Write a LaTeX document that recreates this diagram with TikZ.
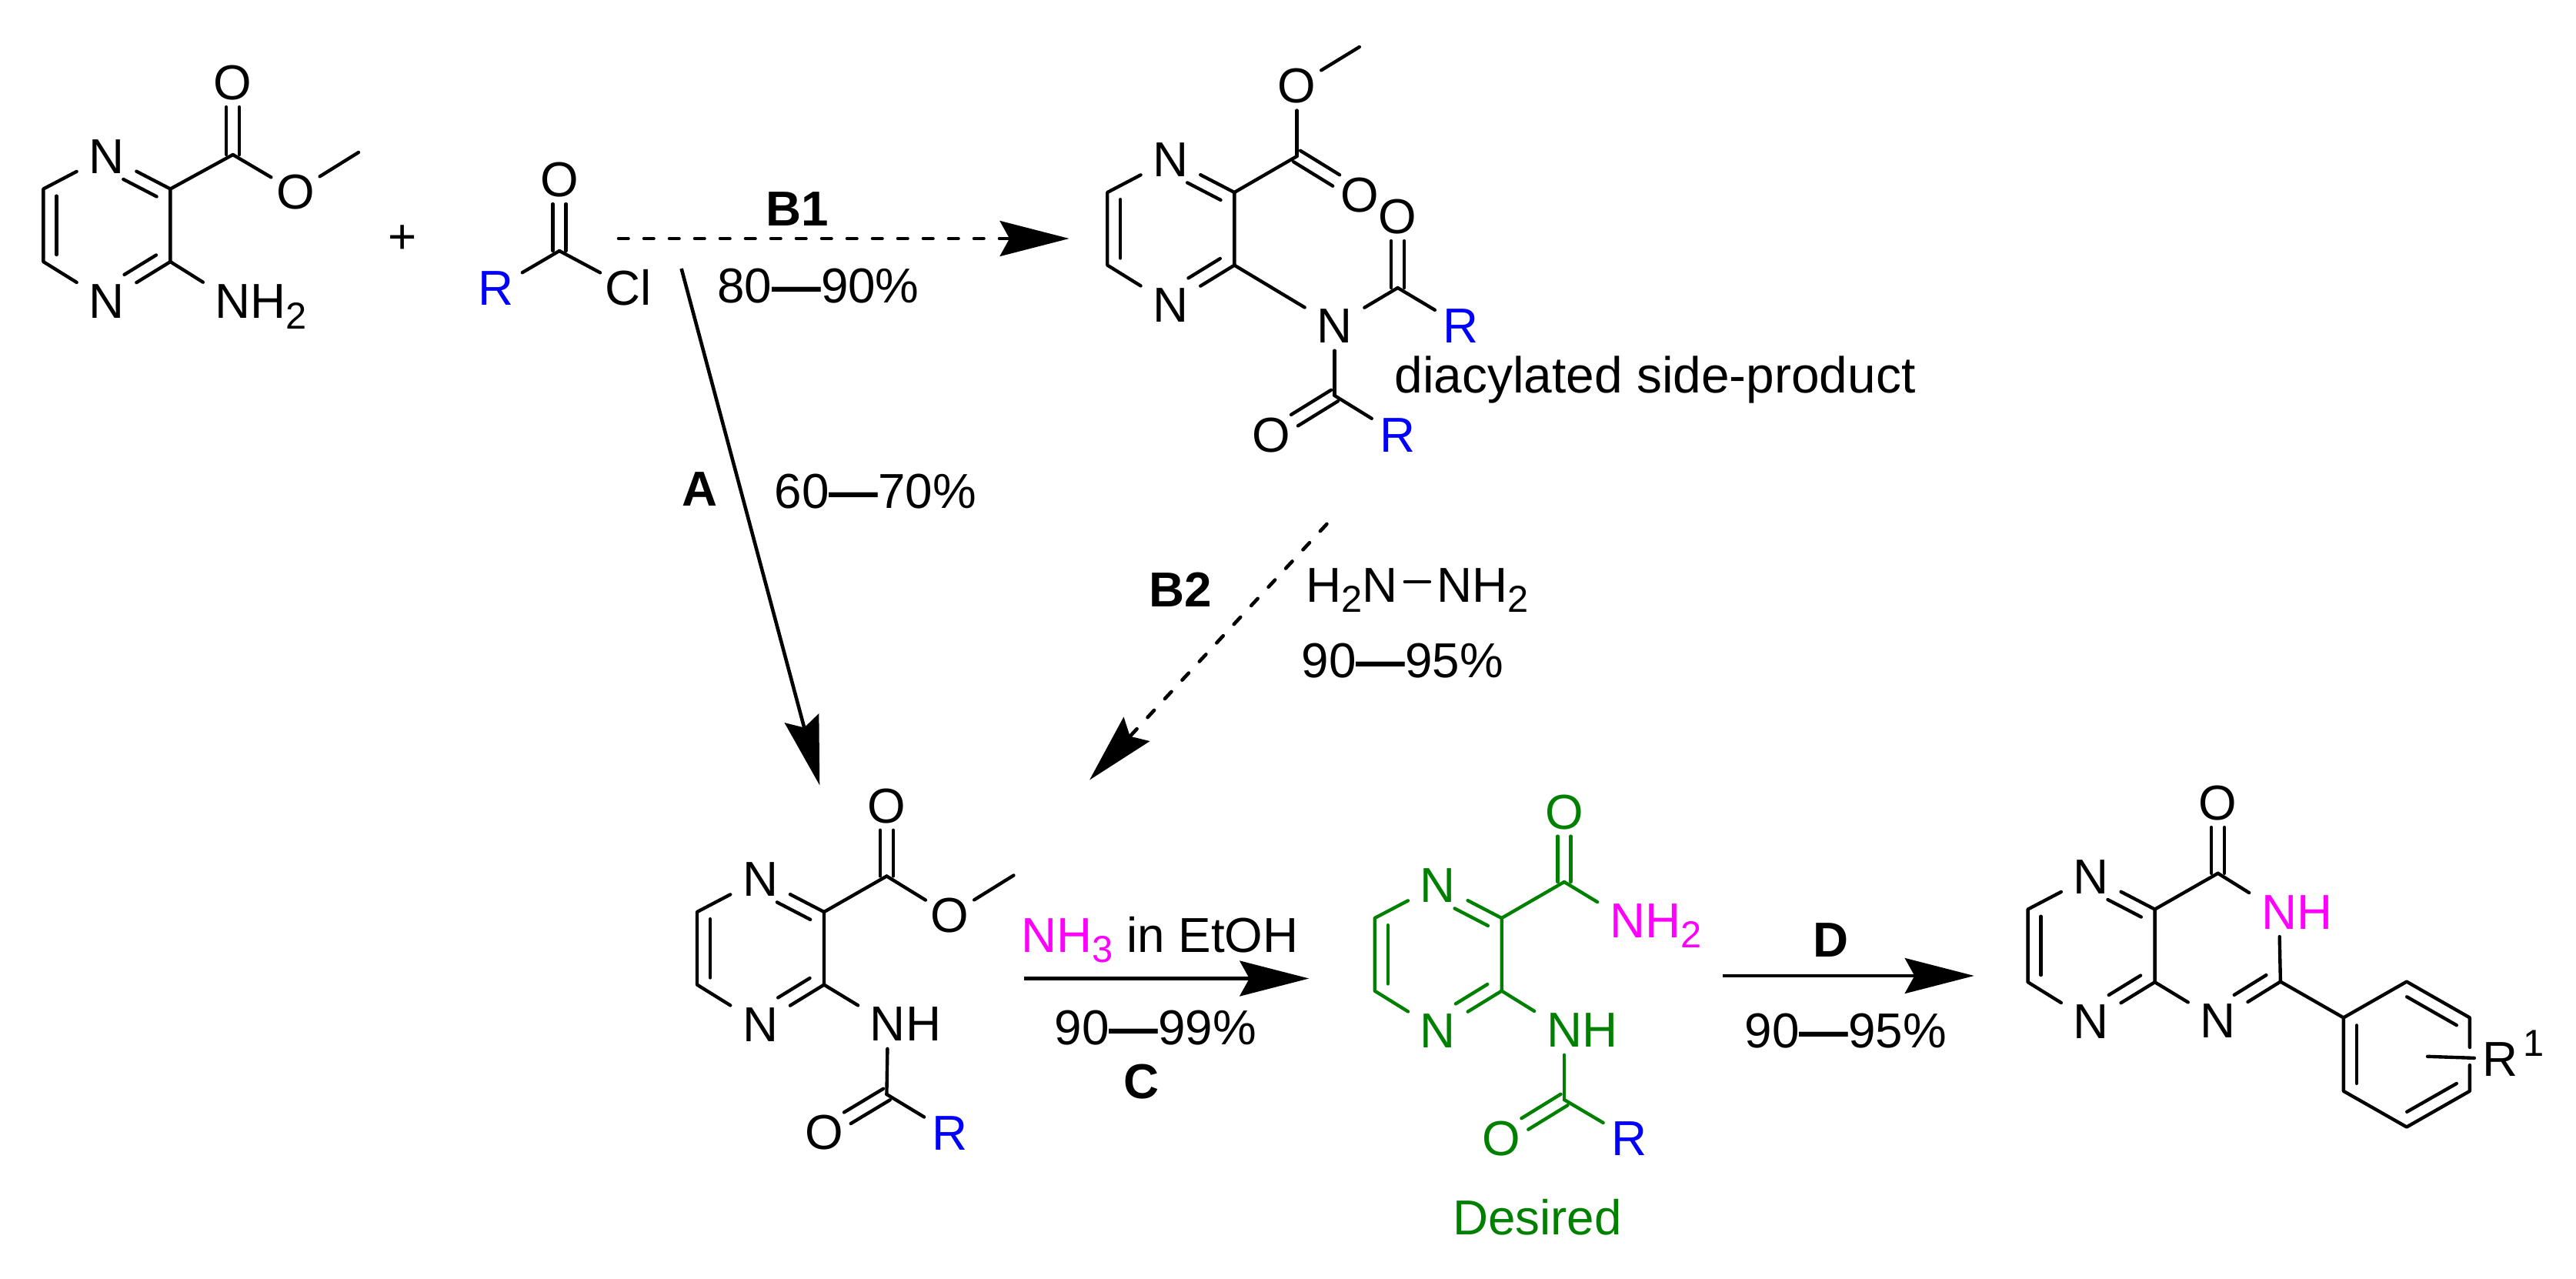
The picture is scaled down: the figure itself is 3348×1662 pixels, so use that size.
\documentclass[tikz,border=0pt]{standalone}
\usepackage{fontspec}
\setmainfont{Liberation Sans}
\usetikzlibrary{arrows.meta,calc}
\definecolor{dgreen}{HTML}{008000}
\definecolor{mag}{HTML}{FF00FF}
\definecolor{rblue}{HTML}{0000FF}
\newcommand{\mainsize}{\fontsize{15.3}{18}\selectfont}
\newcommand{\sbs}[1]{\raisebox{-3.2pt}{\fontsize{11.7}{12}\selectfont #1}}
\newcommand{\rH}[1]{\smash{\rlap{#1}}}
\newcommand{\yld}[2]{#1\textbf{—}#2\%}
\tikzset{
  x=0.24pt,y=-0.24pt,
  bond/.style={line width=1.05pt,line cap=round,line join=round},
  atom/.style={font=\mainsize,inner xsep=3.6pt,inner ysep=2.2pt,text height=10.95pt,text depth=0pt},
  tight/.style={inner xsep=1.44pt},
  rgroup/.style={inner xsep=2.4pt},
  txt/.style={font=\mainsize,inner sep=0pt,anchor=base},
  btxt/.style={font=\mainsize\bfseries,inner sep=0pt,anchor=base},
  arr/.style={line width=1.1pt,-{Stealth[length=21.6pt,width=11pt,inset=3pt]}},
  darr/.style={arr,line cap=round,dash pattern=on 3pt off 4.92pt}
}
% inner (ring side) line of a double bond, a -> b clockwise round the ring
\newcommand{\indb}[4]{\draw[bond,shorten <=#3,shorten >=#4] ($(#1)!4.08pt!-90:(#2)$) -- ($(#2)!4.08pt!90:(#1)$);}
% double bond centred on the a--b axis
\newcommand{\cdb}[3]{%
  \draw[bond,shorten >=#3] ($(#1)!2.04pt!90:(#2)$) -- ($(#2)!2.04pt!-90:(#1)$);
  \draw[bond,shorten >=#3] ($(#1)!2.04pt!-90:(#2)$) -- ($(#2)!2.04pt!90:(#1)$);}
% pyrazine ring: prefix, x and y of the upper fused carbon, colour
\newcommand{\pyrazine}[4]{%
  \begin{scope}[shift={(#2,#3)},color=#4]
    \coordinate (#1c2) at (0,0);
    \coordinate (#1c3) at (0,94.6);
    \coordinate (#1lt) at (-165,0);
    \coordinate (#1lb) at (-165,94.6);
    \node[atom] (#1n1) at (-82.9,-43) {N};
    \node[atom] (#1n2) at (-82.9,145.5) {N};
    \draw[bond] (#1n1) -- (#1c2) -- (#1c3) -- (#1n2) -- (#1lb) -- (#1lt) -- (#1n1);
    \indb{#1n1}{#1c2}{8pt}{2.7pt}
    \indb{#1c3}{#1n2}{2.7pt}{9pt}
    \indb{#1lb}{#1lt}{2.2pt}{2.2pt}
  \end{scope}}
\begin{document}
\begin{tikzpicture}
\useasboundingbox (0,0) rectangle (3348,1662);

% --- aminopyrazine ester
\pyrazine{a-}{221.4}{245.5}{black}
\coordinate (a-c) at (302.7,201);
\coordinate (a-me) at (466,198);
\node[atom,tight] (a-ot) at (302.7,107) {O};
\node[atom,tight] (a-oe) at (384,249) {O};
\node[atom] (a-nh) at (302.7,391) {N\rH{H\sbs{2}}};
\draw[bond] (a-c2) -- (a-c);
\cdb{a-c}{a-ot}{7.7pt}
\draw[bond] (a-c) -- (a-oe);
\draw[bond] (a-oe) -- (a-me);
\draw[bond] (a-c3) -- (a-nh);

\node[font=\mainsize,inner sep=0pt] (plus) at (523,311) {+};

% --- acid chloride
\coordinate (b-c) at (727,326);
\node[atom,tight] (b-o) at (727,233) {O};
\node[atom,rgroup,color=rblue] (b-r) at (645,374) {R};
\node[atom,tight] (b-cl) at (817,374) {Cl};
\cdb{b-c}{b-o}{7.7pt}
\draw[bond] (b-c) -- (b-r);
\draw[bond] (b-c) -- (b-cl);

% --- diacylated side product
\pyrazine{s-}{1604.3}{250}{black}
\coordinate (s-c) at (1685.6,203);
\coordinate (s-me) at (1766.8,61);
\coordinate (s-c1) at (1816.6,374);
\coordinate (s-c2x) at (1734.5,514);
\node[atom,tight] (s-oe) at (1685.6,110.7) {O};
\node[atom,tight] (s-od) at (1766.8,253) {O};
\node[atom] (s-n) at (1734.5,422.8) {N};
\node[atom,tight] (s-o1) at (1816.6,281) {O};
\node[atom,rgroup,color=rblue] (s-r1) at (1898.7,423) {R};
\node[atom,tight] (s-o2) at (1652.4,564.7) {O};
\node[atom,rgroup,color=rblue] (s-r2) at (1816.6,564.7) {R};
\draw[bond] (s-c2) -- (s-c);
\draw[bond] (s-c) -- (s-oe);
\draw[bond] (s-oe) -- (s-me);
\cdb{s-c}{s-od}{8.5pt}
\draw[bond] (s-c3) -- (s-n);
\draw[bond] (s-n) -- (s-c1);
\cdb{s-c1}{s-o1}{7.7pt}
\draw[bond] (s-c1) -- (s-r1);
\draw[bond] (s-n) -- (s-c2x);
\cdb{s-c2x}{s-o2}{8.5pt}
\draw[bond] (s-c2x) -- (s-r2);
\node[txt,font=\fontsize{15.8}{18}\selectfont] (sidelabel) at (2151,510) {diacylated side-product};

% --- monoacylated ester
\pyrazine{m-}{1071}{1185}{black}
\coordinate (m-c) at (1152.4,1138.5);
\coordinate (m-me) at (1317.4,1137.5);
\coordinate (m-ca) at (1152.4,1422);
\node[atom,tight] (m-ot) at (1152.4,1046.7) {O};
\node[atom,tight] (m-oe) at (1234.5,1189) {O};
\node[atom] (m-nh) at (1154,1330) {N\rH{H}};
\node[atom,tight] (m-oa) at (1071,1471) {O};
\node[atom,rgroup,color=rblue] (m-r) at (1235,1472) {R};
\draw[bond] (m-c2) -- (m-c);
\cdb{m-c}{m-ot}{7.7pt}
\draw[bond] (m-c) -- (m-oe);
\draw[bond] (m-oe) -- (m-me);
\draw[bond] (m-c3) -- (m-nh);
\draw[bond] (m-nh) -- (m-ca);
\cdb{m-ca}{m-oa}{8.5pt}
\draw[bond] (m-ca) -- (m-r);

% --- desired amide (green)
\pyrazine{g-}{1951.7}{1193}{dgreen}
\begin{scope}[color=dgreen]
\coordinate (g-c) at (2033,1146);
\coordinate (g-ca) at (2033,1429);
\node[atom,tight] (g-ot) at (2033,1054.5) {O};
\node[atom,color=mag] (g-nh2) at (2115,1195.7) {N\rH{H\sbs{2}}};
\node[atom] (g-nh) at (2033,1338) {N\rH{H}};
\node[atom,tight] (g-oa) at (1951.7,1479) {O};
\node[atom,rgroup,color=rblue] (g-r) at (2117.5,1479) {R};
\draw[bond] (g-c2) -- (g-c);
\cdb{g-c}{g-ot}{7.7pt}
\draw[bond] (g-c) -- (g-nh2);
\draw[bond] (g-c3) -- (g-nh);
\draw[bond] (g-nh) -- (g-ca);
\cdb{g-ca}{g-oa}{8.5pt}
\draw[bond] (g-ca) -- (g-r);
\node[txt] (desired) at (1998,1604) {Desired};
\end{scope}

% --- pteridinone
\pyrazine{p-}{2800.6}{1181.6}{black}
\coordinate (p-c4) at (2882.6,1134.8);
\coordinate (p-c2x) at (2963.9,1275.6);
\coordinate (p-ip) at (3045.8,1322.4);
\coordinate (p-tp) at (3127.9,1275.6);
\coordinate (p-tr) at (3209.9,1322.4);
\coordinate (p-br) at (3209.9,1417.8);
\coordinate (p-bt) at (3127.9,1464.5);
\coordinate (p-bl) at (3045.8,1417.8);
\coordinate (p-gapa) at (3209.9,1361);
\coordinate (p-gapb) at (3209.9,1384);
\coordinate (p-sub) at (3155,1372.8);
\node[atom,tight] (p-o) at (2882.6,1043) {O};
\node[atom,color=mag] (p-nh) at (2962,1184.3) {N\rH{H}};
\node[atom] (p-n3) at (2882.6,1326) {N};
\node[atom,rgroup] (p-r1) at (3249.7,1376) {R\rH{\kern1.6pt\raisebox{6.4pt}{\fontsize{11.7}{12}\selectfont 1}}};
\draw[bond] (p-c2) -- (p-c4);
\cdb{p-c4}{p-o}{7.7pt}
\draw[bond] (p-c4) -- (p-nh);
\draw[bond] (p-nh) -- (p-c2x);
\draw[bond] (p-c2x) -- (p-n3);
\indb{p-c2x}{p-n3}{2.7pt}{8.5pt}
\draw[bond] (p-n3) -- (p-c3);
\draw[bond] (p-c2x) -- (p-ip);
\draw[bond] (p-ip) -- (p-tp) -- (p-tr) -- (p-gapa);
\draw[bond] (p-gapb) -- (p-br) -- (p-bt) -- (p-bl) -- (p-ip);
\indb{p-tp}{p-tr}{2.4pt}{2.4pt}
\indb{p-br}{p-bt}{2.4pt}{2.4pt}
\indb{p-bl}{p-ip}{2.4pt}{2.4pt}
\draw[bond] (p-sub) -- (p-r1);

% --- arrows
\coordinate (b1s) at (804,310);
\coordinate (b1e) at (1389.6,310);
\draw[darr] (b1s) -- (b1e);
\node[btxt] (b1l) at (1036.5,293) {B1};
\node[txt] (b1y) at (1063.5,393) {\yld{80}{90}};

\coordinate (as) at (885.6,349);
\coordinate (ae) at (1065.3,1020.4);
\draw[arr] (as) -- (ae);
\node[btxt] (al) at (909.6,657.6) {A};
\node[txt] (ay) at (1138,660.7) {\yld{60}{70}};

\coordinate (b2s) at (1724.4,681);
\coordinate (b2e) at (1416,1013.6);
\draw[darr] (b2s) -- (b2e);
\node[btxt] (b2l) at (1534,788) {B2};
\node[txt,anchor=base west] (hza) at (1697,782) {H\sbs{2}N};
\node[txt,anchor=base west] (hzb) at (1867,782) {NH\sbs{2}};
\draw[bond] ($(hza.base east)+(8,-26)$) -- ($(hzb.base west)+(-9,-26)$);
\node[txt] (b2y) at (1822.8,880.7) {\yld{90}{95}};

\coordinate (cs) at (1330.7,1271.5);
\coordinate (ce) at (1701.3,1271.5);
\draw[arr] (cs) -- (ce);
\node[txt,anchor=base west] (cr) at (1326.5,1237) {\textcolor{mag}{NH\sbs{3}} in EtOH};
\node[txt] (cy) at (1501.8,1357) {\yld{90}{99}};
\node[btxt] (cl) at (1484,1427) {C};

\coordinate (ds) at (2239.3,1268);
\coordinate (de) at (2565.8,1268);
\draw[arr] (ds) -- (de);
\node[btxt] (dl) at (2379.5,1243) {D};
\node[txt] (dy) at (2398.7,1361) {\yld{90}{95}};
\end{tikzpicture}
\end{document}
